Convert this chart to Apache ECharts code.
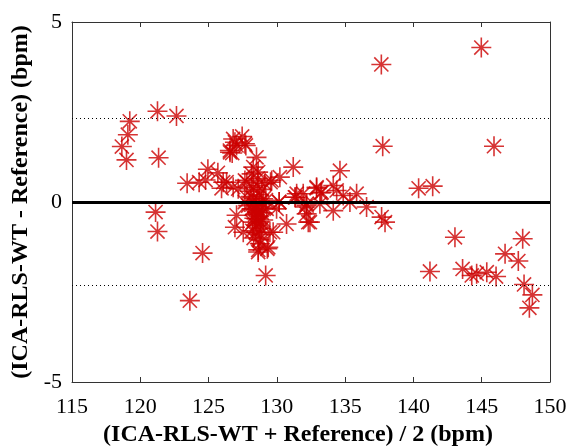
<!DOCTYPE html>
<html>
<head>
<meta charset="utf-8">
<script src="https://cdn.jsdelivr.net/npm/echarts@6/dist/echarts.min.js"></script>
<style>
  html, body { margin: 0; padding: 0; background: #fff; }
  #chart { width: 569px; height: 447px; }
</style>
</head>
<body>
<div id="chart"></div>
<script>
// Bland-Altman agreement: mean of the two methods vs. their difference (bpm)
const meanBpm = [
  121.26, 122.65, 119.23, 119.09, 118.65, 118.99, 121.34, 121.12, 121.26, 124.56,
  123.63, 123.43, 124.31, 124.78, 124.95, 125.68, 126.07, 125.95, 126.80, 126.56,
  126.80, 127.46, 127.73, 127.05, 126.73, 126.57, 127.66, 126.93, 128.51, 128.27,
  128.15, 128.63, 130.22, 131.20, 126.32, 127.17, 127.66, 129.12, 129.62, 131.45,
  128.27, 129.54, 130.17, 131.37, 127.05, 126.93, 127.54, 128.51, 128.88, 129.49,
  128.76, 128.63, 129.37, 130.71, 132.05, 132.30, 128.15, 129.25, 129.98, 127.66,
  129.00, 128.24, 129.18, 128.64, 129.30, 129.73, 132.18, 132.18, 130.17, 131.32,
  128.00, 128.30, 128.50, 128.70, 128.90, 128.40, 128.60, 128.20, 128.80, 129.00,
  128.10, 128.55, 128.90, 129.20, 127.90, 128.30, 128.70, 127.80, 128.60, 128.45,
  128.35, 128.65, 128.80, 128.50, 128.95, 128.25, 128.70, 128.45, 128.85, 128.60,
  134.62, 132.91, 134.13, 133.28, 134.86, 135.84, 132.18, 133.15, 134.13, 135.35,
  136.57, 132.42, 137.67, 137.92, 131.93, 132.91, 133.21, 134.38,
  137.65, 144.97, 137.75, 145.90, 140.38, 141.41,
  143.04, 141.21, 143.60, 144.27, 144.63, 145.37, 146.05, 146.71, 147.68, 148.00,
  148.10, 148.71, 148.49
];
const diffBpm = [
  2.52, 2.39, 2.24, 1.87, 1.54, 1.17, 1.23, -0.28, -0.82, -1.42,
  -2.74, 0.52, 0.55, 0.61, 0.91, 0.81, 0.55, 0.38, 0.41, 1.43,
  1.75, 1.82, 1.57, 1.57, 1.36, 1.38, 1.62, 1.66, 1.24, 0.97,
  0.78, 0.83, 0.69, 0.97, 0.55, 0.37, 0.60, 0.51, 0.60, 0.23,
  0.41, 0.55, 0.00, 0.13, -0.37, -0.70, -0.84, -0.47, -0.74, -0.84,
  -1.16, -1.39, -1.26, -0.61, -0.14, -0.56, -0.19, -0.19, -0.19, 0.00,
  0.09, -0.56, -2.04, -1.33, -1.30, -0.84, -0.10, -0.33, 0.00, 0.13,
  0.30, 0.10, -0.10, 0.20, -0.30, -0.35, -0.60, -0.80, -0.90, -0.50,
  0.15, 0.45, 0.35, 0.05, -0.10, -1.00, -1.05, 0.55, 0.65, -0.20,
  -0.45, -0.25, -0.55, -0.65, -0.15, -0.05, -0.40, -0.85, 0.00, -0.30,
  0.87, 0.41, 0.46, 0.27, 0.18, 0.23, -0.05, -0.05, -0.24, 0.00,
  -0.14, -0.56, -0.42, -0.56, 0.23, 0.38, 0.25, 0.32,
  3.82, 4.29, 1.55, 1.55, 0.38, 0.44,
  -0.98, -1.93, -1.86, -2.04, -1.99, -1.95, -2.07, -1.44, -1.64, -1.02,
  -2.29, -2.58, -2.94
];

// Reference lines: zero bias and the two limits of agreement
const biasLine = 0;
const upperLimit = 2.33;
const lowerLimit = -2.31;

const xTicks = { min: 115, max: 150, step: 5 };
const yTicks = { min: -5, max: 5, step: 5 };

const points = meanBpm.map((m, i) => [m, diffBpm[i]]);

// Eight-spoke asterisk outline (stroked, not filled)
const asterisk = 'path://M0,9L18,9M9,0L9,18M2.64,2.64L15.36,15.36M2.64,15.36L15.36,2.64';

const serif = '"Liberation Serif", "Times New Roman", serif';
const axisGray = '#333';

const chart = echarts.init(document.getElementById('chart'), null, { renderer: 'canvas' });

const frameAxis = (pos) => ({
  position: pos,
  axisLine: { show: true, onZero: false, lineStyle: { color: axisGray, width: 1 } },
  axisTick: { show: true, inside: true, length: 5, lineStyle: { color: axisGray } },
  axisLabel: { show: false },
  splitLine: { show: false }
});

chart.setOption({
  animation: false,
  backgroundColor: '#fff',
  grid: {
    left: 72, right: 19, top: 22, bottom: 65,
    containLabel: false,
    outerBoundsMode: 'none'
  },
  xAxis: [
    {
      type: 'value', min: xTicks.min, max: xTicks.max, interval: xTicks.step,
      position: 'bottom',
      name: '(ICA-RLS-WT + Reference) / 2 (bpm)',
      nameLocation: 'middle', nameGap: 41,
      nameTextStyle: { fontFamily: serif, fontWeight: 'bold', fontSize: 24, color: '#000', padding: [0, 26, 0, 0] },
      axisLine: { show: true, onZero: false, lineStyle: { color: axisGray, width: 1 } },
      axisTick: { show: true, inside: true, length: 5, lineStyle: { color: axisGray } },
      axisLabel: { fontFamily: serif, fontSize: 22, color: '#000', margin: 14 },
      splitLine: { show: false }
    },
    Object.assign({ type: 'value', min: xTicks.min, max: xTicks.max, interval: xTicks.step }, frameAxis('top'))
  ],
  yAxis: [
    {
      type: 'value', min: yTicks.min, max: yTicks.max, interval: yTicks.step,
      position: 'left',
      name: '(ICA-RLS-WT - Reference) (bpm)',
      nameLocation: 'middle', nameGap: 31,
      nameTextStyle: { fontFamily: serif, fontWeight: 'bold', fontSize: 24, color: '#000' },
      axisLine: { show: true, onZero: false, lineStyle: { color: axisGray, width: 1 } },
      axisTick: { show: true, inside: true, length: 5, lineStyle: { color: axisGray } },
      axisLabel: { fontFamily: serif, fontSize: 22, color: '#000', margin: 10 },
      splitLine: { show: false }
    },
    Object.assign({ type: 'value', min: yTicks.min, max: yTicks.max, interval: yTicks.step }, frameAxis('right'))
  ],
  series: [
    {
      type: 'scatter',
      data: points,
      symbol: asterisk,
      symbolSize: 20,
      itemStyle: { color: 'rgba(0,0,0,0)', borderColor: '#cc0000', borderWidth: 1.6 },
      z: 3
    },
    {
      type: 'line',
      data: [],
      silent: true,
      markLine: {
        silent: true,
        symbol: ['none', 'none'],
        label: { show: false },
        data: [
          { yAxis: biasLine, lineStyle: { color: '#000', width: 3, type: 'solid' } },
          { yAxis: upperLimit, lineStyle: { color: '#000', width: 1, type: [1, 3] } },
          { yAxis: lowerLimit, lineStyle: { color: '#000', width: 1, type: [1, 3] } }
        ]
      },
      z: 4
    }
  ]
});
</script>
</body>
</html>
